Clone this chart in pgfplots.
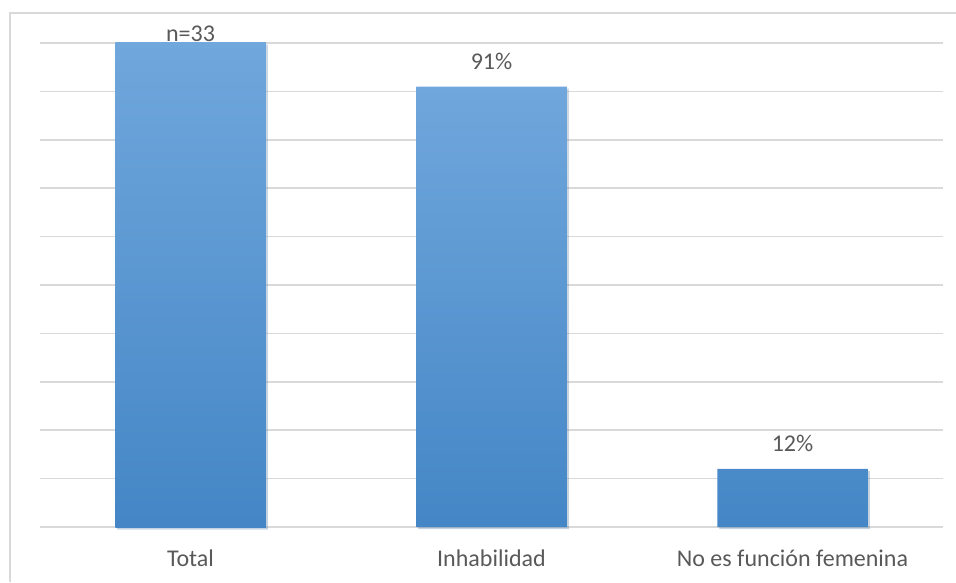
\documentclass[border=0pt]{standalone}
\usepackage{pgfplots}
\pgfplotsset{compat=1.18}
\usepackage{fontspec}
\setmainfont{Carlito}
\usetikzlibrary{shadows}
\definecolor{txt}{HTML}{595959}
\definecolor{gridc}{HTML}{D9D9D9}
\definecolor{bartop}{HTML}{70A7DC}
\definecolor{barbot}{HTML}{4486C6}
\begin{document}
\begin{tikzpicture}[x=1pt,y=1pt]
\useasboundingbox (0,0) rectangle (956,582);
\draw[gridc, line width=1.5pt] (10,0) -- (10,569) -- (956,569);
\begin{axis}[
  at={(40pt,55pt)}, anchor=south west,
  scale only axis, width=903pt, height=484pt,
  xmin=-0.5, xmax=2.5, ymin=0, ymax=100,
  clip=false,
  axis line style={draw=none},
  ytick={0,10,...,100}, yticklabels={},
  ymajorgrids, xmajorgrids=false,
  y grid style={color=gridc, line width=1.5pt},
  major tick length=0pt,
  xtick={0,1,2},
  xticklabels={Total, Inhabilidad, No es función femenina},
  xticklabel style={font=\fontsize{24}{28}\selectfont, text=txt, anchor=base, yshift=-39pt},
  nodes near coords,
  point meta=explicit symbolic,
  every node near coord/.append style={font=\fontsize{24}{28}\selectfont, text=txt, anchor=base},
]
\addplot[ybar, bar width=0.5, bar shift=0pt, draw=none, top color=bartop, bottom color=barbot,
  drop shadow={opacity=0.2, shadow xshift=2pt, shadow yshift=-2pt},
  every node near coord/.append style={yshift=1pt}]
  coordinates {(0,100) [n=33]};
\addplot[ybar, bar width=0.5, bar shift=0pt, draw=none, top color=bartop, bottom color=barbot,
  drop shadow={opacity=0.2, shadow xshift=2pt, shadow yshift=-2pt},
  every node near coord/.append style={yshift=17pt}]
  coordinates {(1,91) [91\%] (2,12) [12\%]};
\end{axis}
\end{tikzpicture}
\end{document}
